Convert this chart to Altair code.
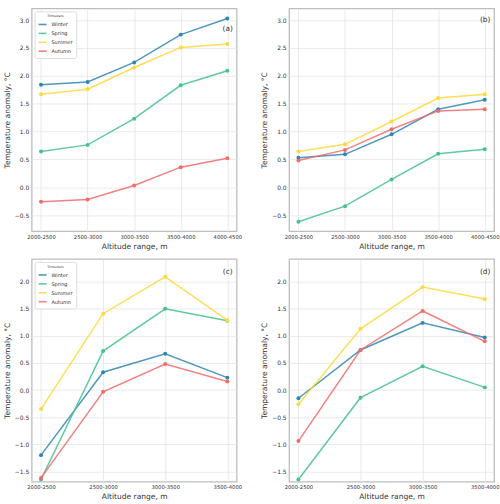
import altair as alt
import pandas as pd

# Altitude bands (x categories)
ranges_top = ["2000-2500", "2500-3000", "3000-3500", "3500-4000", "4000-4500"]
ranges_bottom = ["2000-2500", "2500-3000", "3000-3500", "3500-4000"]

seasons = ["Winter", "Spring", "Summer", "Autumn"]
palette = ["#2f86b3", "#45c08f", "#ffd83a", "#f26b6b"]

# Panel (a)
a_winter = [1.84, 1.89, 2.24, 2.74, 3.03]
a_spring = [0.64, 0.76, 1.23, 1.83, 2.09]
a_summer = [1.67, 1.76, 2.15, 2.51, 2.57]
a_autumn = [-0.26, -0.22, 0.03, 0.36, 0.52]

# Panel (b)
b_winter = [0.53, 0.59, 0.95, 1.40, 1.57]
b_spring = [-0.62, -0.34, 0.14, 0.60, 0.68]
b_summer = [0.64, 0.77, 1.18, 1.60, 1.67]
b_autumn = [0.48, 0.67, 1.04, 1.37, 1.40]

# Panel (c)
c_winter = [-1.20, 0.33, 0.67, 0.23]
c_spring = [-1.65, 0.72, 1.50, 1.28]
c_summer = [-0.35, 1.41, 2.09, 1.29]
c_autumn = [-1.62, -0.03, 0.48, 0.16]

# Panel (d)
d_winter = [-0.15, 0.74, 1.24, 0.97]
d_spring = [-1.65, -0.14, 0.44, 0.05]
d_summer = [-0.26, 1.13, 1.90, 1.68]
d_autumn = [-0.94, 0.74, 1.46, 0.90]

top_domain = [-0.79, 3.21]
top_ticks = [-0.5, 0.0, 0.5, 1.0, 1.5, 2.0, 2.5, 3.0]
bottom_domain = [-1.69, 2.42]
bottom_ticks = [-1.5, -1.0, -0.5, 0.0, 0.5, 1.0, 1.5, 2.0]

FONT = "DejaVu Sans"
W, H = 207, 225


def season_legend():
    return alt.Legend(
        title="Trimesters",
        orient="top-left",
        offset=3,
        symbolType="stroke",
        symbolSize=64,
        symbolStrokeWidth=1.6,
        labelFontSize=5,
        titleFontSize=3.2,
        titleFontWeight="normal",
        titleAnchor="middle",
        titlePadding=2,
        rowPadding=0,
        labelOffset=4,
        padding=3,
        fillColor="white",
        strokeColor="#dddddd",
        cornerRadius=2,
        labelColor="#333333",
        titleColor="#333333",
    )


def panel(ranges, series, tag, y_domain, y_ticks, pad, show_legend, tag_y):
    rows = []
    for s, vals in zip(seasons, series):
        for r, v in zip(ranges, vals):
            rows.append({"range": r, "season": s, "anomaly": v})
    df = pd.DataFrame(rows)

    x = alt.X(
        "range:N",
        sort=ranges,
        scale=alt.Scale(type="point", padding=pad),
        axis=alt.Axis(title="Altitude range, m", labelAngle=0),
    )
    y = alt.Y(
        "anomaly:Q",
        scale=alt.Scale(domain=y_domain, nice=False, zero=False),
        axis=alt.Axis(values=y_ticks, format=".1f", title="Temperature anomaly, °C"),
    )
    color_kw = dict(scale=alt.Scale(domain=seasons, range=palette))
    if show_legend:
        color = alt.Color("season:N", legend=season_legend(), **color_kw)
    else:
        color = alt.Color("season:N", legend=None, **color_kw)

    base = alt.Chart(df)
    lines = base.mark_line(strokeWidth=1.5, opacity=0.85, clip=True).encode(
        x=x, y=y, color=color
    )
    points = base.mark_point(filled=True, size=16, opacity=1, clip=True).encode(
        x=x, y=y, color=color
    )
    label = (
        alt.Chart(pd.DataFrame({"t": [tag]}))
        .mark_text(font=FONT, fontSize=7.5, color="#333333", align="center", baseline="middle")
        .encode(text="t:N", x=alt.value(198), y=alt.value(tag_y))
    )
    return alt.layer(lines, points, label).properties(width=W, height=H)


pa = panel(ranges_top, [a_winter, a_spring, a_summer, a_autumn], "(a)",
           top_domain, top_ticks, 0.2, True, 21)
pb = panel(ranges_top, [b_winter, b_spring, b_summer, b_autumn], "(b)",
           top_domain, top_ticks, 0.2, False, 12)
pc = panel(ranges_bottom, [c_winter, c_spring, c_summer, c_autumn], "(c)",
           bottom_domain, bottom_ticks, 0.15, True, 13)
pd_ = panel(ranges_bottom, [d_winter, d_spring, d_summer, d_autumn], "(d)",
            bottom_domain, bottom_ticks, 0.15, False, 13)

top = alt.hconcat(pa, pb, spacing=17).resolve_scale(color="independent", x="independent", y="independent")
bottom = alt.hconcat(pc, pd_, spacing=17).resolve_scale(color="independent", x="independent", y="independent")

chart = (
    alt.vconcat(top, bottom, spacing=7)
    .resolve_scale(color="independent", x="independent", y="independent")
    .properties(padding={"left": 2, "top": 5, "right": 0, "bottom": 0}, background="white")
    .configure_view(stroke="#bdbdbd", strokeWidth=1.3)
    .configure_axis(
        domain=False,
        ticks=False,
        grid=True,
        gridColor="#e4e4e4",
        gridWidth=0.8,
        labelFont=FONT,
        titleFont=FONT,
        labelColor="#333333",
        titleColor="#333333",
        titleFontWeight="normal",
        titleFontSize=7.6,
        labelPadding=3,
        titlePadding=3,
    )
    .configure_axisY(labelFontSize=6)
    .configure_axisX(labelFontSize=5.3)
    .configure_legend(labelFont=FONT, titleFont=FONT)
)

chart.save("out.html", embed_options={"renderer": "svg", "actions": False})
